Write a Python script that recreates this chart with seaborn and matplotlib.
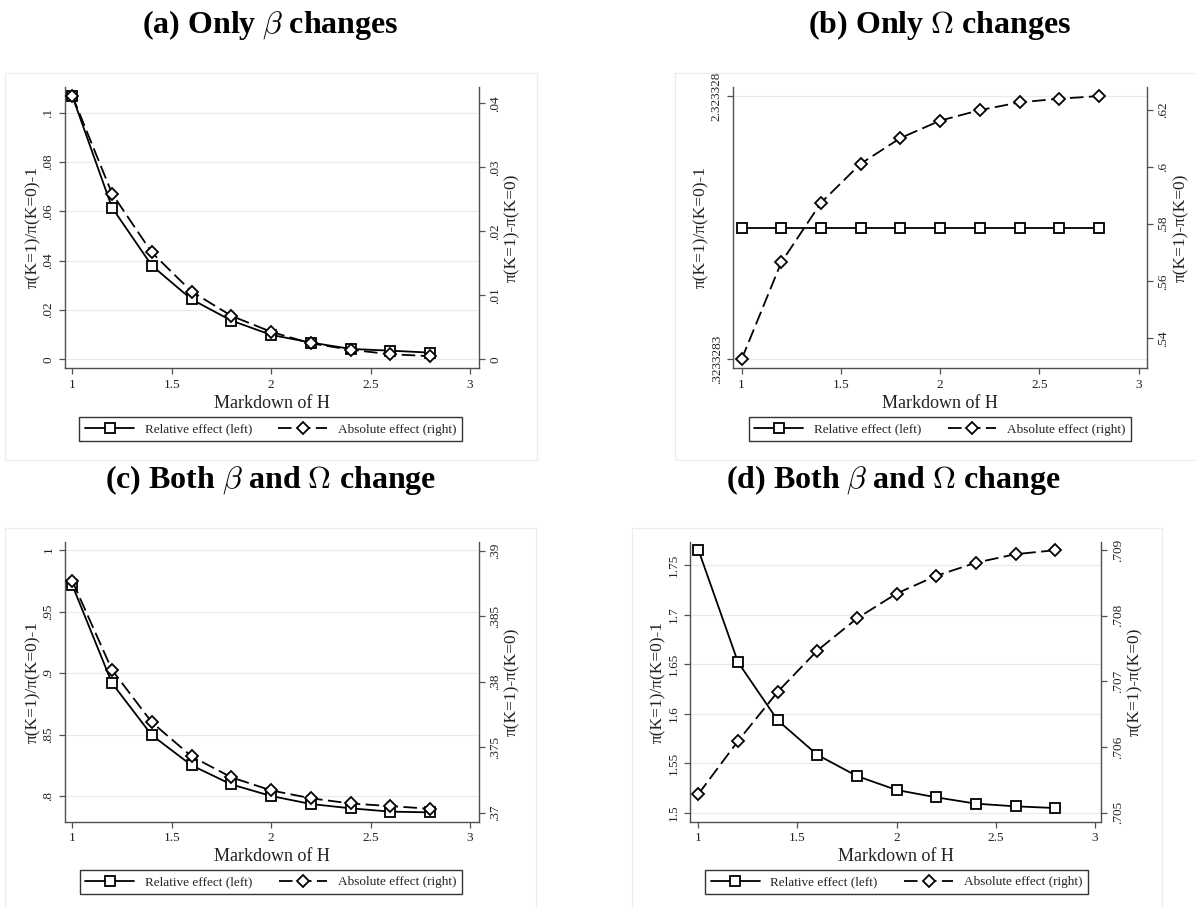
import matplotlib
matplotlib.use('Agg')
import matplotlib.pyplot as plt
import seaborn as sns
import pandas as pd
from matplotlib.lines import Line2D
from matplotlib.patches import Rectangle

# ---------------- data ----------------
markdown = [1.0, 1.2, 1.4, 1.6, 1.8, 2.0, 2.2, 2.4, 2.6, 2.8]

a_rel = [0.1068, 0.0615, 0.0380, 0.0243, 0.0157, 0.0099, 0.0068, 0.0042, 0.0035, 0.0027]
a_abs = [0.0412, 0.0259, 0.0167, 0.0106, 0.0068, 0.0043, 0.0025, 0.0015, 0.0008, 0.0005]

b_rel = [1.3233283, 1.3233283, 1.3233283, 1.3233283, 1.3233283,
         1.3233283, 1.3233283, 1.3233283, 1.3233283, 1.3233283]
b_abs = [0.5326, 0.5666, 0.5875, 0.6012, 0.6102, 0.6163, 0.6200, 0.6227, 0.6240, 0.6249]

c_rel = [0.9716, 0.8919, 0.8497, 0.8252, 0.8097, 0.8003, 0.7938, 0.7903, 0.7876, 0.7870]
c_abs = [0.3877, 0.3809, 0.3769, 0.3743, 0.3727, 0.3717, 0.3711, 0.3707, 0.3705, 0.3703]

d_rel = [1.7655, 1.6520, 1.5933, 1.5584, 1.5370, 1.5229, 1.5155, 1.5091, 1.5064, 1.5047]
d_abs = [0.70528, 0.70609, 0.70684, 0.70747, 0.70796, 0.70834, 0.70861, 0.70881, 0.70894, 0.70900]

x_ticks = [1, 1.5, 2, 2.5, 3]
x_tick_labels = ['1', '1.5', '2', '2.5', '3']

a_left_ticks = [0, 0.02, 0.04, 0.06, 0.08, 0.1]
a_left_labels = ['0', '.02', '.04', '.06', '.08', '.1']
a_right_ticks = [0, 0.01, 0.02, 0.03, 0.04]
a_right_labels = ['0', '.01', '.02', '.03', '.04']

b_left_ticks = [0.3233283, 2.323328]
b_left_labels = ['.3233283', '2.323328']
b_right_ticks = [0.54, 0.56, 0.58, 0.60, 0.62]
b_right_labels = ['.54', '.56', '.58', '.6', '.62']

c_left_ticks = [0.8, 0.85, 0.9, 0.95, 1.0]
c_left_labels = ['.8', '.85', '.9', '.95', '1']
c_right_ticks = [0.37, 0.375, 0.38, 0.385, 0.39]
c_right_labels = ['.37', '.375', '.38', '.385', '.39']

d_left_ticks = [1.5, 1.55, 1.6, 1.65, 1.7, 1.75]
d_left_labels = ['1.5', '1.55', '1.6', '1.65', '1.7', '1.75']
d_right_ticks = [0.705, 0.706, 0.707, 0.708, 0.709]
d_right_labels = ['.705', '.706', '.707', '.708', '.709']

titles = ['(a) Only $\\beta$ changes', '(b) Only $\\Omega$ changes',
          '(c) Both $\\beta$ and $\\Omega$ change', '(d) Both $\\beta$ and $\\Omega$ change']
x_label = 'Markdown of H'
left_label = 'π(K=1)/π(K=0)-1'
right_label = 'π(K=1)-π(K=0)'
legend_labels = ['Relative effect (left)', 'Absolute effect (right)']

# ---------------- style ----------------
sns.set_theme(style='white')
plt.rcParams['font.family'] = ['Liberation Serif', 'DejaVu Serif']
plt.rcParams['mathtext.fontset'] = 'cm'

W, H = 1196, 907
fig = plt.figure(figsize=(W / 100, H / 100), dpi=100)
fig.patch.set_facecolor('white')

SPINE = '#505050'
TXT = '#222222'
GRID = '#e4eced'
DASH = (0, (7.5, 3))


def px_rect(l, t, r, b):
    return [l / W, 1 - b / H, (r - l) / W, (b - t) / H]


def panel(rect, rel, ab, lt, ll, rt, rl, xlim, yl, yr, title, title_xy, leg_xy, frame):
    # faint outer graph-region frame
    fl, ft, fr, fb = frame
    fig.add_artist(Rectangle((fl / W, 1 - fb / H), (fr - fl) / W, (fb - ft) / H,
                             transform=fig.transFigure, fill=False,
                             edgecolor='#e9edee', lw=0.9))
    ax = fig.add_axes(rect)
    ax2 = ax.twinx()
    df = pd.DataFrame({'x': markdown, 'rel': rel, 'abs': ab})
    sns.lineplot(data=df, x='x', y='rel', ax=ax, color='black', lw=1.3,
                 marker='s', markersize=6.5, markerfacecolor='white',
                 markeredgecolor='black', markeredgewidth=1.3, zorder=3)
    sns.lineplot(data=df, x='x', y='abs', ax=ax2, color='black', lw=1.3,
                 linestyle=DASH, marker='D', markersize=6.5, markerfacecolor='white',
                 markeredgecolor='black', markeredgewidth=1.3, zorder=3)
    ax.set_xlim(*xlim)
    ax.set_ylim(*yl)
    ax2.set_ylim(*yr)
    ax.set_xticks(x_ticks)
    ax.set_xticklabels(x_tick_labels)
    ax.set_yticks(lt)
    ax.set_yticklabels(ll)
    ax2.set_yticks(rt)
    ax2.set_yticklabels(rl)
    ax.grid(axis='y', color=GRID, lw=0.9)
    ax.grid(axis='x', visible=False)
    ax2.grid(False)
    ax.set_axisbelow(True)
    ax.set_facecolor('none')
    for s in ['top', 'right']:
        ax.spines[s].set_visible(False)
    for s in ['top', 'left', 'bottom']:
        ax2.spines[s].set_visible(False)
    for a in (ax, ax2):
        for s in a.spines.values():
            s.set_color(SPINE)
            s.set_linewidth(1.0)
    ax.tick_params(axis='both', direction='out', length=4.5, width=0.9, color=SPINE,
                   labelsize=9.5, labelcolor=TXT, pad=3)
    ax.tick_params(axis='y', labelrotation=90, left=True)
    ax.tick_params(axis='x', bottom=True)
    ax2.tick_params(axis='y', direction='out', length=4.5, width=0.9, color=SPINE,
                    labelsize=9.5, labelcolor=TXT, pad=3, labelrotation=90, right=True)
    for t in ax.get_yticklabels() + ax2.get_yticklabels():
        t.set_va('center')
    ax.set_xlabel(x_label, fontsize=13, color=TXT, labelpad=3)
    ax.set_ylabel(left_label, fontsize=12.5, color=TXT, labelpad=1)
    ax2.set_ylabel(right_label, fontsize=12.5, color=TXT, labelpad=2.5, rotation=90)
    fig.text(title_xy[0] / W, 1 - title_xy[1] / H, title, ha='center', va='center',
             fontsize=23, fontweight='bold', color='black')
    handles = [
        Line2D([], [], color='black', lw=1.3, marker='s', markersize=6.5,
               markerfacecolor='white', markeredgecolor='black', markeredgewidth=1.3),
        Line2D([], [], color='black', lw=1.3, linestyle=DASH, marker='D', markersize=6.5,
               markerfacecolor='white', markeredgecolor='black', markeredgewidth=1.3),
    ]
    leg = ax2.legend(handles, legend_labels, loc='center',
                     bbox_to_anchor=(leg_xy[0] / W, 1 - leg_xy[1] / H),
                     bbox_transform=fig.transFigure, ncol=2, frameon=True, fancybox=False,
                     edgecolor='black', fontsize=9.5, handlelength=3.7, columnspacing=2.0,
                     handletextpad=0.8, borderpad=0.45, numpoints=1)
    leg.get_frame().set_linewidth(1.0)
    for t in leg.get_texts():
        t.set_color(TXT)


panel(px_rect(64.7, 86.7, 478.7, 368.3), a_rel, a_abs,
      a_left_ticks, a_left_labels, a_right_ticks, a_right_labels,
      (0.962, 3.044), (-0.00365, 0.1105), (-0.0014, 0.0426),
      titles[0], (270, 25), (270.7, 429.4), (5, 73, 537, 460))

panel(px_rect(733.2, 86.7, 1147.2, 368.3), b_rel, b_abs,
      b_left_ticks, b_left_labels, b_right_ticks, b_right_labels,
      (0.958, 3.043), (0.2550, 2.394), (0.5295, 0.6282),
      titles[1], (940, 25), (940, 429.4), (675, 73, 1200, 460))

panel(px_rect(64.7, 541.7, 478.7, 821.7), c_rel, c_abs,
      c_left_ticks, c_left_labels, c_right_ticks, c_right_labels,
      (0.962, 3.044), (0.77943, 1.00677), (0.36931, 0.39069),
      titles[2], (271, 480), (271, 882), (5, 528, 536, 910))

panel(px_rect(689.8, 541.7, 1101.3, 821.7), d_rel, d_abs,
      d_left_ticks, d_left_labels, d_right_ticks, d_right_labels,
      (0.957, 3.032), (1.4909, 1.7736), (0.70486, 0.70913),
      titles[3], (893, 480), (896.5, 882), (632, 528, 1162, 910))

fig.savefig('out.png', dpi=100, facecolor='white')
